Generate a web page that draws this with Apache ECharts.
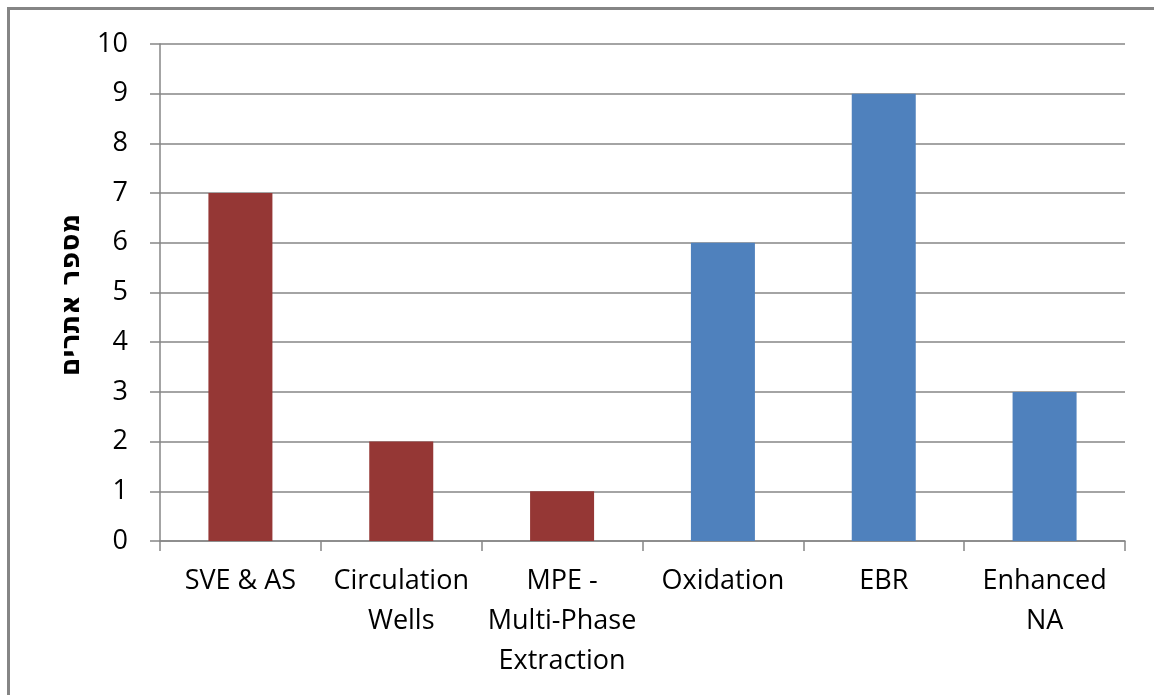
<!DOCTYPE html>
<html>
<head>
<meta charset="utf-8">
<script src="https://cdn.jsdelivr.net/npm/echarts@6/dist/echarts.min.js"></script>
<style>
html,body{margin:0;padding:0;background:#fff;}
#c{width:1154px;height:695px;}
</style>
</head>
<body>
<div id="c"></div>
<script>
var categories = ['SVE & AS', 'Circulation\nWells', 'MPE -\nMulti-Phase\nExtraction', 'Oxidation', 'EBR', 'Enhanced\nNA'];
var values = [7, 2, 1, 6, 9, 3];
var groups = ['physical', 'physical', 'physical', 'chemical', 'chemical', 'chemical'];
var yTicks = [0, 1, 2, 3, 4, 5, 6, 7, 8, 9, 10];
var yTitle = 'מספר אתרים';

var groupColors = { physical: '#953735', chemical: '#4F81BD' };
var font = '"Open Sans", "Liberation Sans", sans-serif';

var chart = echarts.init(document.getElementById('c'));
chart.setOption({
  animation: false,
  backgroundColor: '#fff',
  graphic: [{
    type: 'rect',
    shape: { x: 8.5, y: 8.5, width: 1300, height: 900 },
    style: { fill: 'none', stroke: '#858585', lineWidth: 3 },
    silent: true
  }, {
    type: 'text',
    x: 72,
    y: 295,
    rotation: Math.PI / 2,
    style: {
      text: yTitle,
      font: 'bold 27px "DejaVu Sans", "Noto Sans", sans-serif',
      fill: '#000',
      textAlign: 'center',
      textVerticalAlign: 'middle'
    }
  }],
  grid: { left: 160, right: 29, top: 44, bottom: 154 },
  xAxis: {
    type: 'category',
    data: categories,
    axisLine: { lineStyle: { color: '#868686', width: 1.5 } },
    axisTick: { show: true, length: 10, alignWithLabel: false, lineStyle: { color: '#868686', width: 1.5 } },
    axisLabel: {
      interval: 0,
      color: '#000',
      fontFamily: font,
      fontSize: 27,
      lineHeight: 40,
      margin: 20
    }
  },
  yAxis: {
    type: 'value',
    min: yTicks[0],
    max: yTicks[yTicks.length - 1],
    interval: 1,
    axisLine: { show: true, lineStyle: { color: '#868686', width: 1.5 } },
    axisTick: { show: true, length: 10, lineStyle: { color: '#868686', width: 1.5 } },
    splitLine: { lineStyle: { color: '#868686', width: 1.5 } },
    axisLabel: {
      color: '#000',
      fontFamily: font,
      fontSize: 27,
      margin: 32
    }
  },
  series: [{
    type: 'bar',
    barWidth: 64,
    data: values.map(function (v, i) {
      return { value: v, itemStyle: { color: groupColors[groups[i]] } };
    })
  }]
});
</script>
</body>
</html>
